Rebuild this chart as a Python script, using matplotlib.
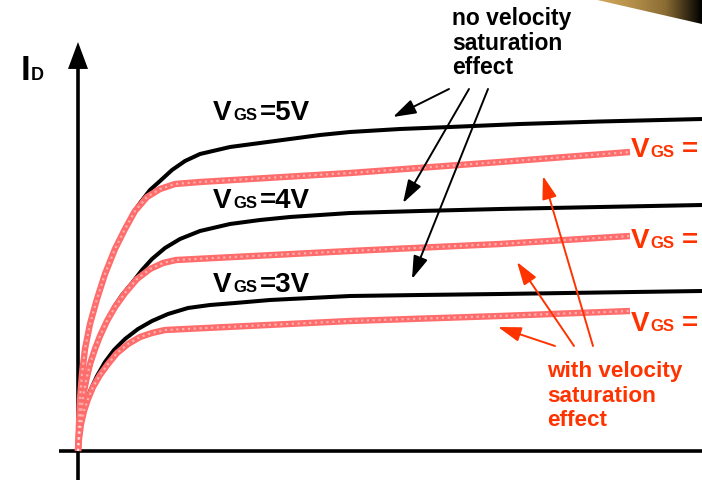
import numpy as np
import matplotlib
matplotlib.use("Agg")
import matplotlib.pyplot as plt
from matplotlib.patches import Polygon
from matplotlib.colors import LinearSegmentedColormap

# pixel-space sketch of I_D vs V_DS curves (y grows downward)
black_5v_x = [78, 79, 80, 82, 85, 90, 97, 105, 115, 125, 133, 140, 150, 160, 172, 185, 200, 230, 260, 290, 320, 350, 400, 450, 520, 600, 702]
black_5v_y = [452, 425, 400, 375, 350, 325, 300, 275, 250, 230, 214, 204, 191, 182, 171, 162, 155, 148, 144, 140, 136, 133, 130, 128, 125, 122.5, 120]
black_4v_x = [78, 80, 83, 87, 92, 98, 106, 114, 122, 132, 142, 152, 165, 180, 200, 230, 260, 290, 320, 350, 420, 500, 600, 702]
black_4v_y = [452, 425, 400, 380, 360, 343, 325, 308, 296, 284, 271, 260, 249, 240, 232, 225, 221, 218, 216, 214, 212, 210, 208, 206]
black_3v_x = [78, 80, 84, 90, 97, 105, 114, 125, 138, 152, 168, 188, 210, 235, 270, 310, 350, 420, 500, 600, 702]
black_3v_y = [452, 430, 410, 392, 377, 363, 351, 340, 330, 322, 315, 309, 306, 304, 301, 299, 297, 296, 295, 293.5, 292]

red_5v_x = [78, 79, 80, 82, 85, 90, 97, 105, 115, 125, 135, 147, 160, 175, 200, 350, 500, 630]
red_5v_y = [452, 425, 400, 375, 350, 325, 300, 275, 250, 230, 212, 198, 190, 185, 183, 174, 163, 153]
red_4v_x = [78, 79, 81, 83, 86, 90, 95, 100, 107, 115, 125, 137, 150, 163, 176, 350, 500, 630]
red_4v_y = [452, 435, 415, 398, 382, 365, 350, 337, 322, 308, 294, 280, 270, 264, 261, 252, 245, 237]
red_3v_x = [78, 79, 81, 84, 88, 93, 100, 108, 117, 128, 140, 152, 165, 350, 500, 630]
red_3v_y = [452, 440, 425, 412, 400, 388, 376, 365, 354, 345, 338, 334, 331, 322, 317, 312]

black_labels = ["5V", "4V", "3V"]
black_label_y = [120, 208, 292]
red_label_y = [157, 248, 331]

RED_LINE = "#ff6c6c"
RED_TEXT = "#ff3300"
FONT = "Liberation Sans"

fig = plt.figure(figsize=(7.02, 4.81), dpi=100)
ax = fig.add_axes([0, 0, 1, 1])
ax.set_xlim(0, 702)
ax.set_ylim(481, 0)
ax.axis("off")

# corner wedge with gradient
wedge = Polygon([(593, 0), (702, 0), (702, 25)], closed=True, facecolor="none", edgecolor="none")
ax.add_patch(wedge)
cmap = LinearSegmentedColormap.from_list("gold", ["#d4aa5e", "#b8924c", "#8a6c34", "#000000"])
grad = np.linspace(0, 1, 256).reshape(1, -1)
im = ax.imshow(grad, cmap=cmap, extent=[593, 702, 25, 0], aspect="auto", zorder=1)
im.set_clip_path(wedge)

# axes
ax.plot([78, 78], [481, 66], color="black", lw=2.6, solid_capstyle="butt", zorder=3)
ax.plot([59, 702], [452, 452], color="black", lw=2.6, solid_capstyle="butt", zorder=3)
ax.annotate("", xy=(78, 43), xytext=(78, 72),
            arrowprops=dict(arrowstyle="-|>,head_length=0.97,head_width=0.36",
                            mutation_scale=20, color="black", lw=0, shrinkA=0, shrinkB=0))

# no velocity saturation curves
for xs, ys in [(black_5v_x, black_5v_y), (black_4v_x, black_4v_y), (black_3v_x, black_3v_y)]:
    ax.plot(xs, ys, color="black", lw=2.9, solid_capstyle="butt", zorder=4)

# velocity saturated curves, hatched look
for xs, ys in [(red_5v_x, red_5v_y), (red_4v_x, red_4v_y), (red_3v_x, red_3v_y)]:
    ax.plot(xs, ys, color=RED_LINE, lw=4.6, solid_capstyle="butt", zorder=5)
    ax.plot(xs, ys, color="white", lw=1.6, alpha=0.45, dashes=(1.0, 1.6), zorder=6)

ax.text(21, 80, "I", fontsize=25, fontweight="bold", family=FONT, va="baseline")
ax.text(31, 80, "D", fontsize=13, fontweight="bold", family=FONT, va="baseline")

for lab, y in zip(black_labels, black_label_y):
    ax.text(213, y, "V", fontsize=20, fontweight="bold", family=FONT, va="baseline")
    ax.text(233, y, "GS", fontsize=12, fontweight="bold", family=FONT, va="baseline")
    ax.text(260, y, "=" + lab, fontsize=20, fontweight="bold", family=FONT, va="baseline")

for y in red_label_y:
    ax.text(631, y, "V", fontsize=20, fontweight="bold", family=FONT, va="baseline", color=RED_TEXT)
    ax.text(650, y, "GS", fontsize=12, fontweight="bold", family=FONT, va="baseline", color=RED_TEXT)
    ax.text(682, y, "=", fontsize=20, fontweight="bold", family=FONT, va="baseline", color=RED_TEXT)

for line, y in zip(["no velocity", "saturation", "effect"], [25, 50, 74]):
    ax.text(452, y, line, fontsize=16.5, fontweight="bold", family=FONT, va="baseline")
for line, y in zip(["with velocity", "saturation", "effect"], [377, 402, 426]):
    ax.text(547, y, line, fontsize=16.2, fontweight="bold", family=FONT, va="baseline", color=RED_TEXT)

style = "-|>,head_length=1.4,head_width=0.45"
black_arrows = [((449, 90), (393, 118)), ((469, 90), (403, 204)), ((488, 90), (412, 280))]
for start, end in black_arrows:
    ax.annotate("", xy=end, xytext=start,
                arrowprops=dict(arrowstyle=style, mutation_scale=10, color="black",
                                lw=1.4, shrinkA=0, shrinkB=0), zorder=7)
red_arrows = [((555, 347), (498, 328)), ((574, 347), (517, 263)), ((593, 347), (543, 177))]
for start, end in red_arrows:
    ax.annotate("", xy=end, xytext=start,
                arrowprops=dict(arrowstyle=style, mutation_scale=10, color=RED_TEXT,
                                lw=1.4, shrinkA=0, shrinkB=0), zorder=7)

fig.savefig("out.png", dpi=100)
